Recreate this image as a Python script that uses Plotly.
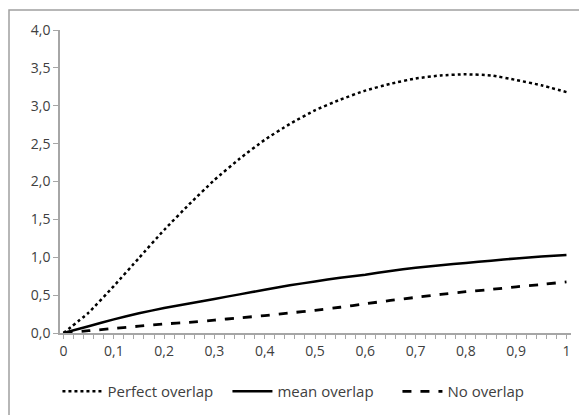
import plotly.graph_objects as go

x_vals = [0.00, 0.05, 0.10, 0.15, 0.20, 0.25, 0.30, 0.35, 0.40, 0.45, 0.50,
          0.55, 0.60, 0.65, 0.70, 0.75, 0.80, 0.85, 0.90, 0.95, 1.00]
perfect_overlap = [0.00, 0.27, 0.62, 0.99, 1.36, 1.70, 2.02, 2.30, 2.55, 2.76, 2.94,
                   3.08, 3.20, 3.29, 3.36, 3.40, 3.415, 3.40, 3.34, 3.27, 3.18]
mean_overlap = [0.00, 0.09, 0.18, 0.26, 0.33, 0.39, 0.45, 0.51, 0.57, 0.63, 0.68,
                0.73, 0.77, 0.82, 0.86, 0.895, 0.925, 0.955, 0.985, 1.01, 1.03]
no_overlap = [0.00, 0.03, 0.06, 0.09, 0.12, 0.14, 0.17, 0.20, 0.23, 0.265, 0.30,
              0.34, 0.385, 0.43, 0.47, 0.51, 0.545, 0.575, 0.61, 0.64, 0.675]

x_tickvals = [i / 50 for i in range(51)]
x_ticktext = [("0" if i == 0 else ("1" if i == 50 else (f"0,{i // 5}" if i % 5 == 0 else "")))
              for i in range(51)]
y_tickvals = [0, 0.5, 1.0, 1.5, 2.0, 2.5, 3.0, 3.5, 4.0]
y_ticktext = ["0,0", "0,5", "1,0", "1,5", "2,0", "2,5", "3,0", "3,5", "4,0"]

font_family = "'Open Sans', sans-serif"
text_color = "#404040"
axis_color = "#a6a6a6"

fig = go.Figure()
fig.add_trace(go.Scatter(x=x_vals, y=perfect_overlap, mode="lines", name="Perfect overlap",
                         line=dict(color="black", width=2.5, dash="dot", shape="spline", smoothing=0.5)))
fig.add_trace(go.Scatter(x=x_vals, y=mean_overlap, mode="lines", name="mean overlap",
                         line=dict(color="black", width=2.5, shape="spline", smoothing=0.5)))
fig.add_trace(go.Scatter(x=x_vals, y=no_overlap, mode="lines", name="No overlap",
                         line=dict(color="black", width=2.8, dash="dash", shape="spline", smoothing=0.5)))

fig.update_layout(
    width=579, height=415,
    margin=dict(l=60, r=8, t=30, b=81),
    paper_bgcolor="white", plot_bgcolor="white",
    font=dict(family=font_family, size=14, color=text_color),
    showlegend=True,
    legend=dict(orientation="h", x=-0.005, xanchor="left", y=-0.135, yanchor="top",
                font=dict(size=15, color=text_color), itemwidth=40,
                entrywidth=115, entrywidthmode="pixels"),
    xaxis=dict(range=[-0.007, 1.009], tickmode="array", tickvals=x_tickvals, ticktext=x_ticktext,
               ticks="outside", ticklen=4, tickcolor=axis_color, tickwidth=1,
               showline=True, linecolor=axis_color, linewidth=1.5,
               showgrid=False, zeroline=False, tickfont=dict(size=14, color=text_color)),
    yaxis=dict(range=[0, 4.0], tickmode="array", tickvals=y_tickvals, ticktext=y_ticktext,
               ticks="outside", ticklen=5, tickcolor=axis_color, tickwidth=1,
               showline=True, linecolor=axis_color, linewidth=1.5,
               showgrid=False, zeroline=False, tickfont=dict(size=14, color=text_color)),
    shapes=[dict(type="rect", xref="paper", yref="paper",
                 x0=-0.0998, x1=1.05, y0=-0.35, y1=1.0658,
                 line=dict(color="#a0a0a0", width=1.5), fillcolor="rgba(0,0,0,0)", layer="above")],
)

fig.write_html("out.html", config={"displayModeBar": False},
               post_script="document.body.style.margin='0';document.body.style.overflow='hidden';")
